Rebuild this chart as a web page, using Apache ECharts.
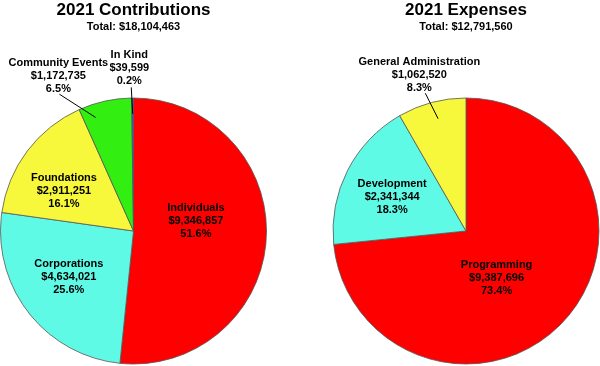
<!DOCTYPE html>
<html><head><meta charset="utf-8">
<script src="https://cdn.jsdelivr.net/npm/echarts@6/dist/echarts.min.js"></script>
<style>html,body{margin:0;padding:0;background:#fff}#c{width:600px;height:366px}</style>
</head><body><div id="c"></div>
<script>
const contribCategories = ['Individuals', 'Corporations', 'Foundations', 'Community Events', 'In Kind'];
const contribValues = [9346857, 4634021, 2911251, 1172735, 39599];
const contribColors = ['#fe0000', '#5ffae6', '#f7f73c', '#33ee11', '#4b4bf0'];

const expenseCategories = ['Programming', 'Development', 'General Administration'];
const expenseValues = [9387696, 2341344, 1062520];
const expenseColors = ['#fe0000', '#5ffae6', '#f7f73c'];

const contribTitle = '2021 Contributions';
const expenseTitle = '2021 Expenses';

// layout / style settings (not data)
const CENTERS = [[133.5, 231], [466, 231]];
const RADIUS = 133;
// outside labels: leader from inner*r (at mid + innerShift) to end*r (at mid + shift); label bottom-centre near end + (dx, dy)
const outsideLabels = {
  'Community Events': { shift: -16, end: 1.17, inner: 0.9, innerShift: -6, dx: -1, dy: 1 },
  'In Kind': { shift: -0.5, end: 1.08, inner: 0.88, innerShift: 0, dx: -2, dy: 0 },
  'General Administration': { shift: -1.5, end: 1.08, inner: 0.87, innerShift: 1, dx: -6, dy: 1 }
};
// small nudges of inside labels
const insideNudge = {
  'Individuals': [-7, -14], 'Corporations': [-10, 3], 'Foundations': [-14, 2],
  'Development': [-12, -2], 'Programming': [-21, 0]
};

const sum = a => a.reduce((s, v) => s + v, 0);
const money = v => '$' + v.toLocaleString('en-US');

const FONT = '"Liberation Sans", Arial, sans-serif';
const labelBase = {
  color: '#000', fontFamily: FONT, fontSize: 11, fontWeight: 'bold', lineHeight: 13, overflow: 'none',
  formatter: p => p.name + '\n' + money(p.value) + '\n' + p.percent.toFixed(1) + '%'
};

const rad = d => d * Math.PI / 180;
function polar(c, a, r) { return [c[0] + Math.sin(a) * r, c[1] - Math.cos(a) * r]; }

// main pie: coloured slices + inside labels
function mainData(cats, vals, cols) {
  return cats.map((n, i) => ({
    name: n, value: vals[i],
    itemStyle: { color: cols[i] },
    label: Object.assign({}, labelBase, { show: !outsideLabels[n], position: 'inside' }),
    labelLine: { show: false }
  }));
}
// overlay pie (same values, transparent): outside labels + leader lines drawn above slices
function overlayData(cats, vals) {
  return cats.map((n, i) => {
    const out = !!outsideLabels[n];
    return {
      name: n, value: vals[i],
      itemStyle: { color: 'rgba(0,0,0,0)', borderWidth: 0 },
      label: Object.assign({}, labelBase, { show: out, position: 'outside' }),
      labelLine: { show: out, length: 8, length2: 0, smooth: false, lineStyle: { color: '#000', width: 1, opacity: 1 } }
    };
  });
}

function labelLayoutFor(idx, cats) {
  return function (params) {
    const name = cats[params.dataIndex];
    const c = CENTERS[idx];
    const o = outsideLabels[name];
    if (o && params.labelLinePoints) {
      const p0 = params.labelLinePoints[0];
      const mid = Math.atan2(p0[0] - c[0], -(p0[1] - c[1]));
      const inner = polar(c, mid + rad(o.innerShift), RADIUS * o.inner);
      const end = polar(c, mid + rad(o.shift), RADIUS * o.end);
      return {
        x: end[0] + o.dx, y: end[1] + o.dy, align: 'center', verticalAlign: 'bottom',
        labelLinePoints: [inner, end]
      };
    }
    const n = insideNudge[name];
    if (n) return { dx: n[0], dy: n[1] };
    return {};
  };
}

function pie(idx, cats, data, z, overlay) {
  return {
    type: 'pie', z: z, center: CENTERS[idx], radius: RADIUS, startAngle: 90, clockwise: true,
    percentPrecision: 1, silent: true, animation: false,
    itemStyle: overlay ? { borderWidth: 0 } : { borderColor: '#555', borderWidth: 0.8 },
    labelLine: { minTurnAngle: 0, maxSurfaceAngle: 180 },
    data: data,
    labelLayout: labelLayoutFor(idx, cats)
  };
}

const titleStyle = { fontFamily: FONT, fontSize: 17, fontWeight: 'bold', color: '#000' };
const subStyle = { fontFamily: FONT, fontSize: 11, fontWeight: 'bold', color: '#000' };

const chart = echarts.init(document.getElementById('c'), null, { renderer: 'canvas' });
chart.setOption({
  backgroundColor: '#fff',
  animation: false,
  title: [
    { text: contribTitle, subtext: 'Total: ' + money(sum(contribValues)), left: CENTERS[0][0], top: 2, padding: 0,
      textAlign: 'center', itemGap: 2, textStyle: titleStyle, subtextStyle: subStyle },
    { text: expenseTitle, subtext: 'Total: ' + money(sum(expenseValues)), left: CENTERS[1][0], top: 2, padding: 0,
      textAlign: 'center', itemGap: 2, textStyle: titleStyle, subtextStyle: subStyle }
  ],
  series: [
    pie(0, contribCategories, mainData(contribCategories, contribValues, contribColors), 2, false),
    pie(1, expenseCategories, mainData(expenseCategories, expenseValues, expenseColors), 2, false),
    pie(0, contribCategories, overlayData(contribCategories, contribValues), 5, true),
    pie(1, expenseCategories, overlayData(expenseCategories, expenseValues), 5, true)
  ]
});
</script></body></html>
